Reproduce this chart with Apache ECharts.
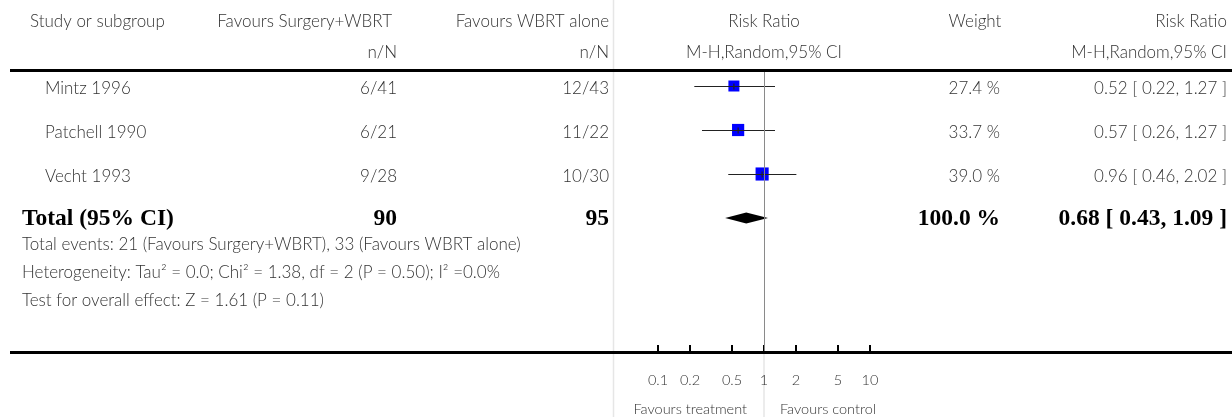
<!DOCTYPE html>
<html><head><meta charset="utf-8">
<script src="https://cdn.jsdelivr.net/npm/echarts@6/dist/echarts.min.js"></script>
<style>html,body{margin:0;padding:0;background:#fff}#c{width:1232px;height:417px}</style>
</head><body><div id="c"></div>
<script>
// ---------- data ----------
const studies = ['Mintz 1996', 'Patchell 1990', 'Vecht 1993'];
const treatN = ['6/41', '6/21', '9/28'];
const controlN = ['12/43', '11/22', '10/30'];
const rr = [0.52, 0.57, 0.96];
const lower = [0.22, 0.26, 0.46];
const upper = [1.27, 1.27, 2.02];
const weights = [27.4, 33.7, 39.0];
const totalLabel = 'Total (95% CI)';
const totalCounts = ['90', '95'];
const totalWeight = 100.0;
const totalRR = [0.68, 0.43, 1.09]; // estimate, lower, upper
const footnotes = [
  'Total events: 21 (Favours Surgery+WBRT), 33 (Favours WBRT alone)',
  'Heterogeneity: Tau\u00B2 = 0.0; Chi\u00B2 = 1.38, df = 2 (P = 0.50); I\u00B2 =0.0%',
  'Test for overall effect: Z = 1.61 (P = 0.11)'
];
const headers1 = ['Study or subgroup', 'Favours Surgery+WBRT', 'Favours WBRT alone', 'Risk Ratio', 'Weight', 'Risk Ratio'];
const headers2 = ['n/N', 'n/N', 'M-H,Random,95% CI', 'M-H,Random,95% CI'];
const tickValues = [0.1, 0.2, 0.5, 1, 2, 5, 10];
const tickLabels = ['0.1', '0.2', '0.5', '1', '2', '5', '10'];
const favours = ['Favours treatment', 'Favours control'];

// ---------- layout ----------
const W = 1232, H = 417;
const gridLeft = 613, gridWidth = 302, gridTop = 72, gridHeight = 280;
const rowH = 44, firstRowY = 86;
const yMin = 1 - (firstRowY - gridTop) / rowH;
const yMax = yMin + gridHeight / rowH;
const logHalf = 1.4247;

const ctx = document.createElement('canvas').getContext('2d');
function measure(font, text) { ctx.font = font; return ctx.measureText(text).width; }
const SANS = 'Lato, "Open Sans", sans-serif';
const SERIF = '"Liberation Serif", "DejaVu Serif", serif';
let sansSize = 16 * 497 / measure('300 16px ' + SANS, footnotes[0]);
sansSize = Math.max(11, Math.min(19, Math.round(sansSize * 2) / 2));
let serifSize = 18 * 169 / measure('bold 18px ' + SERIF, '0.68 [ 0.43, 1.09 ]');
serifSize = Math.max(12, Math.min(24, Math.round(serifSize * 2) / 2));
let smallSize = 14 * 113 / measure('300 14px ' + SANS, favours[0]);
smallSize = Math.max(10, Math.min(16, Math.round(smallSize * 2) / 2));
const TXT = '#333';

function fmt(v) { return v.toFixed(2); }
function ciText(e, l, u) { return fmt(e) + ' [ ' + fmt(l) + ', ' + fmt(u) + ' ]'; }

const chart = echarts.init(document.getElementById('c'), null, { renderer: 'canvas' });

function txt(x, y, text, align, bold, size) {
  return {
    type: 'text', x: x, y: y, silent: true, z: 10,
    style: {
      text: text, align: align || 'left', verticalAlign: 'middle',
      fill: bold ? '#000' : TXT,
      font: bold ? ('bold ' + serifSize + 'px ' + SERIF) : ('300 ' + (size || sansSize) + 'px ' + SANS)
    }
  };
}

const studyData = studies.map((s, i) => [rr[i], lower[i], upper[i], i + 1, weights[i]]);
const totalRow = studies.length + 1;

chart.setOption({
  animation: false,
  backgroundColor: '#fff',
  grid: { left: gridLeft, width: gridWidth, top: gridTop, height: gridHeight, containLabel: false },
  xAxis: {
    type: 'log', logBase: 10,
    min: Math.pow(10, -logHalf), max: Math.pow(10, logHalf),
    axisLine: { show: false }, axisTick: { show: false }, axisLabel: { show: false }, splitLine: { show: false }
  },
  yAxis: {
    type: 'value', inverse: true, min: yMin, max: yMax,
    axisLine: { show: false }, axisTick: { show: false }, axisLabel: { show: false }, splitLine: { show: false }
  },
  series: [
    {
      type: 'custom', name: 'studies', data: studyData, clip: false,
      renderItem: function (params, api) {
        const row = api.value(3);
        const c = api.coord([api.value(0), row]);
        const l = api.coord([api.value(1), row]);
        const h = api.coord([api.value(2), row]);
        const size = 2.1 * Math.sqrt(api.value(4));
        const y = Math.round(c[1]) + 0.5;
        return {
          type: 'group', children: [
            { type: 'rect', shape: { x: c[0] - size / 2, y: c[1] - size / 2, width: size, height: size }, style: { fill: '#0000ff' } },
            { type: 'line', shape: { x1: l[0], y1: y, x2: h[0], y2: y }, style: { stroke: '#222', lineWidth: 1.2 } },
            { type: 'line', shape: { x1: c[0], y1: y - 3, x2: c[0], y2: y + 3 }, style: { stroke: '#222', lineWidth: 1.2 } }
          ]
        };
      },
      markLine: {
        silent: true, symbol: 'none', animation: false,
        label: { show: false },
        lineStyle: { color: '#8a8a8a', width: 1, type: 'solid' },
        data: [{ xAxis: 1 }]
      }
    },
    {
      type: 'custom', name: 'total', data: [[totalRR[0], totalRR[1], totalRR[2], totalRow]], clip: false,
      renderItem: function (params, api) {
        const row = api.value(3);
        const c = api.coord([api.value(0), row]);
        const l = api.coord([api.value(1), row]);
        const h = api.coord([api.value(2), row]);
        return {
          type: 'polygon',
          shape: { points: [[l[0], c[1]], [c[0], c[1] - 5.5], [h[0], c[1]], [c[0], c[1] + 5.5]] },
          style: { fill: '#000' }
        };
      }
    },
    {
      type: 'custom', name: 'ticks', data: tickValues.map((v, i) => [v, i]), clip: false,
      renderItem: function (params, api) {
        const p = api.coord([api.value(0), yMax]);
        const x = Math.round(p[0]);
        return {
          type: 'group', children: [
            { type: 'line', shape: { x1: x, y1: p[1] - 7, x2: x, y2: p[1] }, style: { stroke: '#000', lineWidth: 2 } },
            { type: 'text', x: x, y: p[1] + 28, style: { text: tickLabels[api.value(1)], align: 'center', verticalAlign: 'middle', fill: TXT, font: '300 ' + smallSize + 'px ' + SANS } }
          ]
        };
      }
    }
  ]
});

const x1 = chart.convertToPixel({ xAxisIndex: 0 }, 1);
const axisY = gridTop + gridHeight;

const colN1 = 397, colN2 = 609, colW = 1000, colCI = 1227;
const g = [];
// decorative lines
g.push({ type: 'line', silent: true, z: 1, shape: { x1: gridLeft + 0.5, y1: 0, x2: gridLeft + 0.5, y2: H }, style: { stroke: '#e6e6e6', lineWidth: 1.5 } });
g.push({ type: 'line', silent: true, z: 1, shape: { x1: x1, y1: axisY, x2: x1, y2: H }, style: { stroke: '#e6e6e6', lineWidth: 1.5 } });
g.push({ type: 'line', silent: true, z: 5, shape: { x1: 10, y1: 70.5, x2: W, y2: 70.5 }, style: { stroke: '#000', lineWidth: 3 } });
g.push({ type: 'line', silent: true, z: 5, shape: { x1: 10, y1: axisY + 0.5, x2: W, y2: axisY + 0.5 }, style: { stroke: '#000', lineWidth: 3 } });

// headers
g.push(txt(30, 22, headers1[0], 'left'));
g.push(txt(392, 22, headers1[1], 'right'));
g.push(txt(colN2, 22, headers1[2], 'right'));
g.push(txt(x1, 22, headers1[3], 'center'));
g.push(txt(975, 22, headers1[4], 'center'));
g.push(txt(colCI, 22, headers1[5], 'right'));
g.push(txt(colN1, 53, headers2[0], 'right'));
g.push(txt(colN2, 53, headers2[1], 'right'));
g.push(txt(x1, 53, headers2[2], 'center'));
g.push(txt(colCI, 53, headers2[3], 'right'));

// study rows
studies.forEach((s, i) => {
  const y = chart.convertToPixel({ yAxisIndex: 0 }, i + 1) + 3;
  g.push(txt(45, y, s, 'left'));
  g.push(txt(colN1, y, treatN[i], 'right'));
  g.push(txt(colN2, y, controlN[i], 'right'));
  g.push(txt(colW, y, weights[i].toFixed(1) + ' %', 'right'));
  g.push(txt(colCI, y, ciText(rr[i], lower[i], upper[i]), 'right'));
});
// total row
const ty = chart.convertToPixel({ yAxisIndex: 0 }, totalRow) + 1;
g.push(txt(22, ty, totalLabel, 'left', true));
g.push(txt(colN1, ty, totalCounts[0], 'right', true));
g.push(txt(colN2, ty, totalCounts[1], 'right', true));
g.push(txt(colW, ty, totalWeight.toFixed(1) + ' %', 'right', true));
g.push(txt(colCI, ty, ciText(totalRR[0], totalRR[1], totalRR[2]), 'right', true));
// footnotes
footnotes.forEach((f, i) => g.push(txt(22, 245 + i * 28, f, 'left')));
// favours
g.push(txt(x1 - 17, 409, favours[0], 'right', false, smallSize));
g.push(txt(x1 + 16, 409, favours[1], 'left', false, smallSize));

chart.setOption({ graphic: { elements: g } });
</script>
</body></html>
